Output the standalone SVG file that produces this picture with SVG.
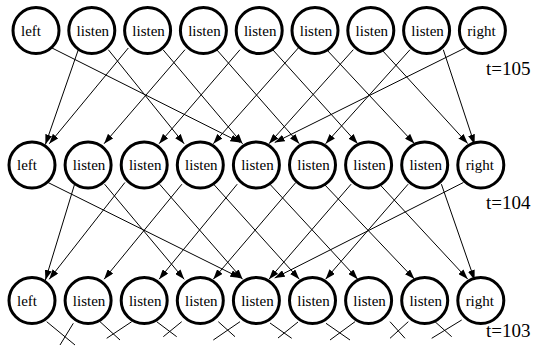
<svg xmlns="http://www.w3.org/2000/svg" width="535" height="348" viewBox="0 0 535 348">
<style>
.n{fill:#fff;stroke:#000;stroke-width:3}
.t{font-family:"Liberation Serif","Times New Roman",serif;font-size:15px;text-anchor:middle;fill:#000}
.e{stroke:#000;stroke-width:1;fill:none;marker-end:url(#a)}
.s{stroke:#000;stroke-width:1;fill:none}
.lab{font-family:"Liberation Serif","Times New Roman",serif;font-size:19px;fill:#000}
</style>
<defs>
<marker id="a" markerUnits="userSpaceOnUse" markerWidth="10" markerHeight="7" refX="10" refY="3.5" orient="auto">
<path d="M0,0 L10,3.5 L0,7 z" fill="#000"/>
</marker>
</defs>
<rect width="535" height="348" fill="#fff"/>
<g id="connectors">
<!-- t=105 to t=104 -->
<line class="e" x1="52" y1="48" x2="240.3" y2="142.5"/>
<line class="e" x1="78.3" y1="49.7" x2="45.4" y2="144.5"/>
<line class="e" x1="108.3" y1="49.7" x2="184.2" y2="143.8"/>
<line class="e" x1="128.3" y1="48" x2="49.2" y2="143.8"/>
<line class="e" x1="163" y1="49.7" x2="242.6" y2="143.8"/>
<line class="e" x1="185" y1="49.7" x2="104.1" y2="143.7"/>
<line class="e" x1="216.7" y1="49.7" x2="299.3" y2="143.7"/>
<line class="e" x1="240" y1="49.7" x2="159.1" y2="143.7"/>
<line class="e" x1="273" y1="50" x2="357.7" y2="143.7"/>
<line class="e" x1="298.3" y1="48" x2="213.3" y2="143.7"/>
<line class="e" x1="326.7" y1="49.7" x2="414.4" y2="143.6"/>
<line class="e" x1="353.3" y1="49.7" x2="269" y2="143.7"/>
<line class="e" x1="381.7" y1="49.7" x2="467.7" y2="143.6"/>
<line class="e" x1="410" y1="49.7" x2="325.6" y2="143.7"/>
<line class="e" x1="443.3" y1="49.7" x2="474.6" y2="144.5"/>
<line class="e" x1="465" y1="48" x2="274.7" y2="142.5"/>
<!-- t=104 to t=103 -->
<line class="e" x1="48" y1="182.5" x2="240.3" y2="278"/>
<line class="e" x1="74.6" y1="184.2" x2="45.4" y2="280"/>
<line class="e" x1="104.6" y1="184.2" x2="184.2" y2="279.3"/>
<line class="e" x1="124.9" y1="182.5" x2="49.2" y2="279.3"/>
<line class="e" x1="159.6" y1="184.2" x2="242.6" y2="279.3"/>
<line class="e" x1="181.9" y1="184.2" x2="104.1" y2="279.2"/>
<line class="e" x1="213.6" y1="184.2" x2="299.3" y2="279.2"/>
<line class="e" x1="237.2" y1="184.2" x2="159.1" y2="279.2"/>
<line class="e" x1="270.2" y1="184.5" x2="357.7" y2="279.2"/>
<line class="e" x1="295.8" y1="182.5" x2="213.3" y2="279.2"/>
<line class="e" x1="324.2" y1="184.2" x2="414.4" y2="279.1"/>
<line class="e" x1="351.1" y1="184.2" x2="269" y2="279.2"/>
<line class="e" x1="379.5" y1="184.2" x2="467.7" y2="279.1"/>
<line class="e" x1="408.1" y1="184.2" x2="325.6" y2="279.2"/>
<line class="e" x1="441.4" y1="184.2" x2="474.6" y2="280"/>
<line class="e" x1="463.4" y1="182.5" x2="274.7" y2="278"/>
<!-- t=103 stubs -->
<line class="s" x1="46.7" y1="321.7" x2="75" y2="345"/>
<line class="s" x1="73.3" y1="323.3" x2="60" y2="345"/>
<line class="s" x1="100" y1="321.7" x2="120" y2="340"/>
<line class="s" x1="131.7" y1="321.7" x2="106.7" y2="338.3"/>
<line class="s" x1="156.7" y1="321.7" x2="176.7" y2="336.7"/>
<line class="s" x1="181.7" y1="321.7" x2="163.3" y2="336.7"/>
<line class="s" x1="218.3" y1="321.7" x2="235" y2="336.7"/>
<line class="s" x1="240" y1="321.7" x2="213.3" y2="340"/>
<line class="s" x1="270" y1="323" x2="291.7" y2="338.3"/>
<line class="s" x1="298" y1="322" x2="278" y2="338"/>
<line class="s" x1="326" y1="323.3" x2="350" y2="340"/>
<line class="s" x1="355" y1="321.7" x2="330" y2="340"/>
<line class="s" x1="390" y1="321.7" x2="405" y2="338.3"/>
<line class="s" x1="408.3" y1="321.7" x2="390" y2="338.3"/>
<line class="s" x1="435" y1="321.7" x2="451.7" y2="336.7"/>
<line class="s" x1="461.7" y1="320" x2="431.7" y2="338.3"/>
</g>
<g id="n105_0"><circle class="n" cx="36" cy="30.5" r="23"/><text class="t" x="31" y="35.5">left</text></g>
<g id="n105_1"><circle class="n" cx="91.8" cy="30.5" r="23"/><text class="t" x="92.8" y="35.5">listen</text></g>
<g id="n105_2"><circle class="n" cx="147.6" cy="30.5" r="23"/><text class="t" x="148.6" y="35.5">listen</text></g>
<g id="n105_3"><circle class="n" cx="203.4" cy="30.5" r="23"/><text class="t" x="204.4" y="35.5">listen</text></g>
<g id="n105_4"><circle class="n" cx="259.2" cy="30.5" r="23"/><text class="t" x="260.2" y="35.5">listen</text></g>
<g id="n105_5"><circle class="n" cx="315" cy="30.5" r="23"/><text class="t" x="316" y="35.5">listen</text></g>
<g id="n105_6"><circle class="n" cx="370.8" cy="30.5" r="23"/><text class="t" x="371.8" y="35.5">listen</text></g>
<g id="n105_7"><circle class="n" cx="426.6" cy="30.5" r="23"/><text class="t" x="427.6" y="35.5">listen</text></g>
<g id="n105_8"><circle class="n" cx="482.4" cy="30.5" r="23"/><text class="t" x="481.4" y="35.5">right</text></g>
<g id="n104_0"><circle class="n" cx="32" cy="165" r="23"/><text class="t" x="27" y="170">left</text></g>
<g id="n104_1"><circle class="n" cx="88.1" cy="165" r="23"/><text class="t" x="89.1" y="170">listen</text></g>
<g id="n104_2"><circle class="n" cx="144.2" cy="165" r="23"/><text class="t" x="145.2" y="170">listen</text></g>
<g id="n104_3"><circle class="n" cx="200.3" cy="165" r="23"/><text class="t" x="201.3" y="170">listen</text></g>
<g id="n104_4"><circle class="n" cx="256.4" cy="165" r="23"/><text class="t" x="257.4" y="170">listen</text></g>
<g id="n104_5"><circle class="n" cx="312.5" cy="165" r="23"/><text class="t" x="313.5" y="170">listen</text></g>
<g id="n104_6"><circle class="n" cx="368.6" cy="165" r="23"/><text class="t" x="369.6" y="170">listen</text></g>
<g id="n104_7"><circle class="n" cx="424.7" cy="165" r="23"/><text class="t" x="425.7" y="170">listen</text></g>
<g id="n104_8"><circle class="n" cx="480.8" cy="165" r="23"/><text class="t" x="479.8" y="170">right</text></g>
<g id="n103_0"><circle class="n" cx="32" cy="300.5" r="23"/><text class="t" x="27" y="305.5">left</text></g>
<g id="n103_1"><circle class="n" cx="88.1" cy="300.5" r="23"/><text class="t" x="89.1" y="305.5">listen</text></g>
<g id="n103_2"><circle class="n" cx="144.2" cy="300.5" r="23"/><text class="t" x="145.2" y="305.5">listen</text></g>
<g id="n103_3"><circle class="n" cx="200.3" cy="300.5" r="23"/><text class="t" x="201.3" y="305.5">listen</text></g>
<g id="n103_4"><circle class="n" cx="256.4" cy="300.5" r="23"/><text class="t" x="257.4" y="305.5">listen</text></g>
<g id="n103_5"><circle class="n" cx="312.5" cy="300.5" r="23"/><text class="t" x="313.5" y="305.5">listen</text></g>
<g id="n103_6"><circle class="n" cx="368.6" cy="300.5" r="23"/><text class="t" x="369.6" y="305.5">listen</text></g>
<g id="n103_7"><circle class="n" cx="424.7" cy="300.5" r="23"/><text class="t" x="425.7" y="305.5">listen</text></g>
<g id="n103_8"><circle class="n" cx="480.8" cy="300.5" r="23"/><text class="t" x="479.8" y="305.5">right</text></g>
<text class="lab" x="486" y="75">t=105</text>
<text class="lab" x="486" y="209">t=104</text>
<text class="lab" x="486" y="337">t=103</text>
</svg>
